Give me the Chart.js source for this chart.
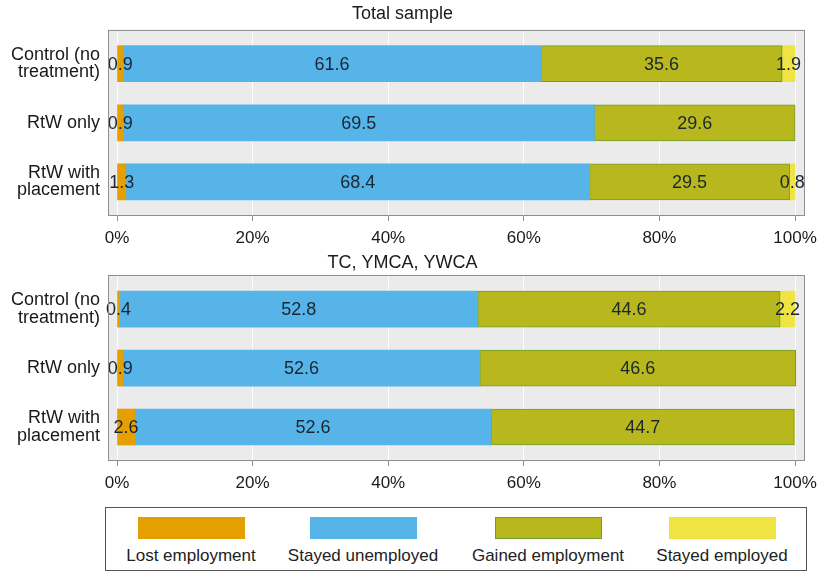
<!DOCTYPE html>
<html>
<head>
<meta charset="utf-8">
<title>Employment transitions</title>
<script src="https://cdn.jsdelivr.net/npm/chart.js@4.4.0/dist/chart.umd.min.js"></script>
<style>
    body {
        margin: 0;
        width: 820px;
        height: 574px;
        position: relative;
        overflow: hidden;
        background: #fff;
        font-family: "Liberation Sans", Arial, sans-serif;
    }
    .panel { position: absolute; left: 0; width: 820px; }
    #totalPanel { top: 0; height: 250px; }
    #ymcaPanel { top: 250px; height: 245px; }
    #legend {
        position: absolute;
        left: 105px;
        top: 507px;
        width: 702px;
        height: 64px;
        border: 1px solid #555;
        box-sizing: border-box;
    }
    .legend-item {
        position: absolute;
        top: 9px;
        width: 180px;
        text-align: center;
    }
    .legend-item .swatch { width: 107px; height: 22px; margin: 0 auto; box-sizing: border-box; }
    .legend-item .name { margin-top: 7px; font-size: 17px; color: #222; white-space: nowrap; }
</style>
</head>
<body>
<div class="panel" id="totalPanel"><canvas id="totalChart"></canvas></div>
<div class="panel" id="ymcaPanel"><canvas id="ymcaChart"></canvas></div>
<div id="legend"></div>

<script>
// Categories and series
const categories = [['Control (no', 'treatment)'], 'RtW only', ['RtW with', 'placement']];
const seriesNames = ['Lost employment', 'Stayed unemployed', 'Gained employment', 'Stayed employed'];
const seriesColors = ['#E69F00', '#56B4E9', '#B8B81E', '#EFE443'];
const xTicks = [0, 20, 40, 60, 80, 100];

// Total sample (%)
const totalLost = [0.9, 0.9, 1.3];
const totalUnemployed = [61.6, 69.5, 68.4];
const totalGained = [35.6, 29.6, 29.5];
const totalEmployed = [1.9, 0, 0.8];

// TC, YMCA, YWCA (%)
const ymcaLost = [0.4, 0.9, 2.6];
const ymcaUnemployed = [52.8, 52.6, 52.6];
const ymcaGained = [44.6, 46.6, 44.7];
const ymcaEmployed = [2.2, 0, 0];

Chart.defaults.font.family = '"Liberation Sans", Arial, sans-serif';
Chart.defaults.color = '#1a1a1a';

// Gray plot panel with a thin frame
const panelBox = {
    id: 'panelBox',
    beforeDraw(chart) {
        const { ctx, chartArea: a } = chart;
        ctx.save();
        ctx.fillStyle = '#EBEBEB';
        ctx.fillRect(a.left, a.top, a.width, a.height);
        ctx.restore();
    },
    afterDraw(chart) {
        const { ctx, chartArea: a } = chart;
        ctx.save();
        ctx.strokeStyle = '#8f8f8f';
        ctx.lineWidth = 1;
        ctx.strokeRect(Math.round(a.left) + 0.5, Math.round(a.top) + 0.5,
            Math.round(a.width) - 1, Math.round(a.height) - 1);
        ctx.restore();
    }
};

// Value written in the middle of each segment
const barValues = {
    id: 'barValues',
    afterDatasetsDraw(chart) {
        const ctx = chart.ctx;
        ctx.save();
        ctx.font = '18px "Liberation Sans", Arial, sans-serif';
        ctx.fillStyle = '#1b2631';
        ctx.textAlign = 'center';
        ctx.textBaseline = 'middle';
        chart.data.datasets.forEach((ds, i) => {
            chart.getDatasetMeta(i).data.forEach((bar, j) => {
                const v = ds.data[j].x;
                if (!v) return;
                ctx.fillText(v.toFixed(1), (bar.x + bar.base) / 2, bar.y + 1);
            });
        });
        ctx.restore();
    }
};

function makePanel(canvasId, title, titlePadding, series) {
    const datasets = series.map((values, i) => ({
        label: seriesNames[i],
        data: values.map((v, j) => ({ x: v, y: j })),
        backgroundColor: seriesColors[i],
        borderColor: i === 2 ? '#6E9F2E' : seriesColors[i],
        borderWidth: i === 2 ? 1 : 0,
        borderSkipped: false,
        barThickness: 36,
        stack: 'all'
    }));

    return new Chart(document.getElementById(canvasId), {
        type: 'bar',
        data: { datasets: datasets },
        plugins: [panelBox, barValues],
        options: {
            indexAxis: 'y',
            responsive: true,
            maintainAspectRatio: false,
            animation: false,
            layout: { padding: { left: 0, right: 15, top: 0, bottom: 0 } },
            plugins: {
                legend: { display: false },
                tooltip: { enabled: false },
                title: {
                    display: true,
                    text: title,
                    color: '#1a1a1a',
                    font: { size: 18, weight: 'normal' },
                    padding: titlePadding
                }
            },
            scales: {
                x: {
                    type: 'linear',
                    stacked: true,
                    min: -1.33,
                    max: 101.47,
                    afterBuildTicks: scale => {
                        scale.ticks = xTicks.map(v => ({ value: v }));
                    },
                    afterFit: scale => {
                        scale.height = 34;
                        scale.paddingLeft = 0;
                        scale.paddingRight = 0;
                    },
                    grid: { color: '#ffffff', tickColor: '#8f8f8f', tickLength: 5 },
                    border: { display: false },
                    ticks: {
                        padding: 7,
                        color: '#1a1a1a',
                        font: { size: 17 },
                        maxRotation: 0,
                        callback: v => v + '%'
                    }
                },
                y: {
                    type: 'linear',
                    stacked: true,
                    reverse: true,
                    offset: false,
                    min: -0.576,
                    max: 2.576,
                    afterBuildTicks: scale => {
                        scale.ticks = categories.map((c, i) => ({ value: i }));
                    },
                    afterFit: scale => { scale.width = 108; },
                    grid: { display: false, drawTicks: false },
                    border: { display: false },
                    ticks: {
                        padding: 8,
                        color: '#1a1a1a',
                        font: { size: 18, lineHeight: 0.95 },
                        callback: v => categories[v]
                    }
                }
            }
        }
    });
}

function buildLegend() {
    const centers = [85, 257, 442, 616];
    document.getElementById('legend').innerHTML = seriesNames.map((name, i) => `
        <div class="legend-item" style="left:${centers[i] - 90}px">
            <div class="swatch" style="background:${seriesColors[i]};${i === 2 ? 'border:1px solid #6E9F2E;' : ''}"></div>
            <div class="name">${name}</div>
        </div>
    `).join('');
}

document.addEventListener('DOMContentLoaded', () => {
    makePanel('totalChart', 'Total sample', { top: 3, bottom: 5 },
        [totalLost, totalUnemployed, totalGained, totalEmployed]);
    makePanel('ymcaChart', 'TC, YMCA, YWCA', { top: 1, bottom: 1 },
        [ymcaLost, ymcaUnemployed, ymcaGained, ymcaEmployed]);
    buildLegend();
});
</script>
</body>
</html>
